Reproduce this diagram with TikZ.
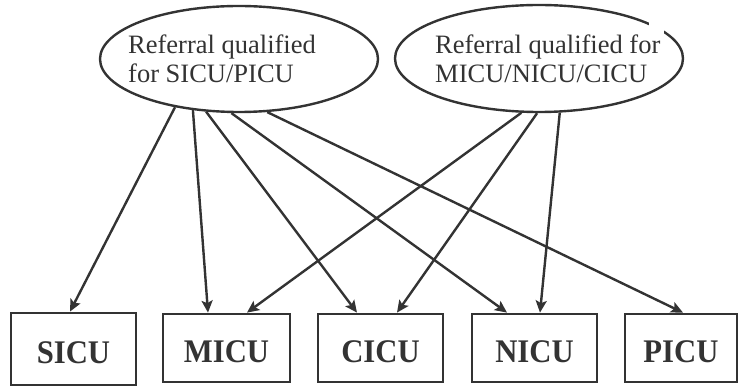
\documentclass[tikz,border=0pt]{standalone}
\usepackage{fontspec}
\setmainfont{Liberation Serif}
\usetikzlibrary{shapes.geometric,arrows.meta}
\definecolor{ink}{HTML}{333333}
\newcommand{\unitlabel}[1]{\raisebox{-4pt}[\height][\depth]{\scalebox{0.93}[1]{#1}}}
\begin{document}
\begin{tikzpicture}[x=1pt,y=-1pt,
  unitbox/.style={draw=ink, line width=2.8pt, minimum height=68pt, inner sep=0pt,
    font=\fontsize{33}{36}\selectfont\bfseries, text=ink},
  oval/.style={ellipse, draw=ink, line width=2.4pt, inner sep=0pt},
  link/.style={draw=ink, line width=2.4pt, -{Stealth[length=12pt,width=11pt,inset=2.5pt]}},
  ovaltext/.style={align=left, inner sep=0pt, anchor=north west,
    font=\fontsize{26.5}{29}\selectfont, text=ink}]
\useasboundingbox (0,0) rectangle (742,387);
% ellipses
\node[oval, minimum width=278pt, minimum height=106pt] (L) at (239,59) {};
\node[oval, minimum width=288pt, minimum height=107pt] (R) at (539,58.5) {};
\node[ovaltext] (Ltext) at (128,34.4) {Referral qualified\\for SICU/PICU};
\node[ovaltext] (Rtext) at (435,34.4) {Referral qualified for\\MICU/NICU/CICU};
% small break in the outline where the text box meets it
\fill[white] ([shift={(-12,-14)}]Rtext.north east) rectangle ([shift={(3,-0.5)}]Rtext.north east);
% units
\node[unitbox, minimum width=125pt, minimum height=72pt] (SICU) at (73.5,349) {\unitlabel{SICU}};
\node[unitbox, minimum width=127pt] (MICU) at (226.5,348) {\unitlabel{MICU}};
\node[unitbox, minimum width=125pt] (CICU) at (380.5,348) {\unitlabel{CICU}};
\node[unitbox, minimum width=125pt] (NICU) at (534.5,348) {\unitlabel{NICU}};
\node[unitbox, minimum width=112pt] (PICU) at (681,348) {\unitlabel{PICU}};
% connectors
\draw[link] (L.217.4) -- ([xshift=-3.5pt]SICU.north);
\draw[link] (L.228.8) -- ([xshift=-18.5pt]MICU.north);
\draw[link] (L.238.2) -- ([xshift=-23.5pt]CICU.north);
\draw[link] (L.262.5) -- ([xshift=-27.5pt]NICU.north);
\draw[link] (L.298.4) -- ([xshift=2pt]PICU.north);
\draw[link] (R.252.1) -- ([xshift=20.5pt]MICU.north);
\draw[link] (R.268) -- ([xshift=16.5pt]CICU.north);
\draw[link] (R.291.8) -- ([xshift=5.5pt]NICU.north);
\end{tikzpicture}
\end{document}
